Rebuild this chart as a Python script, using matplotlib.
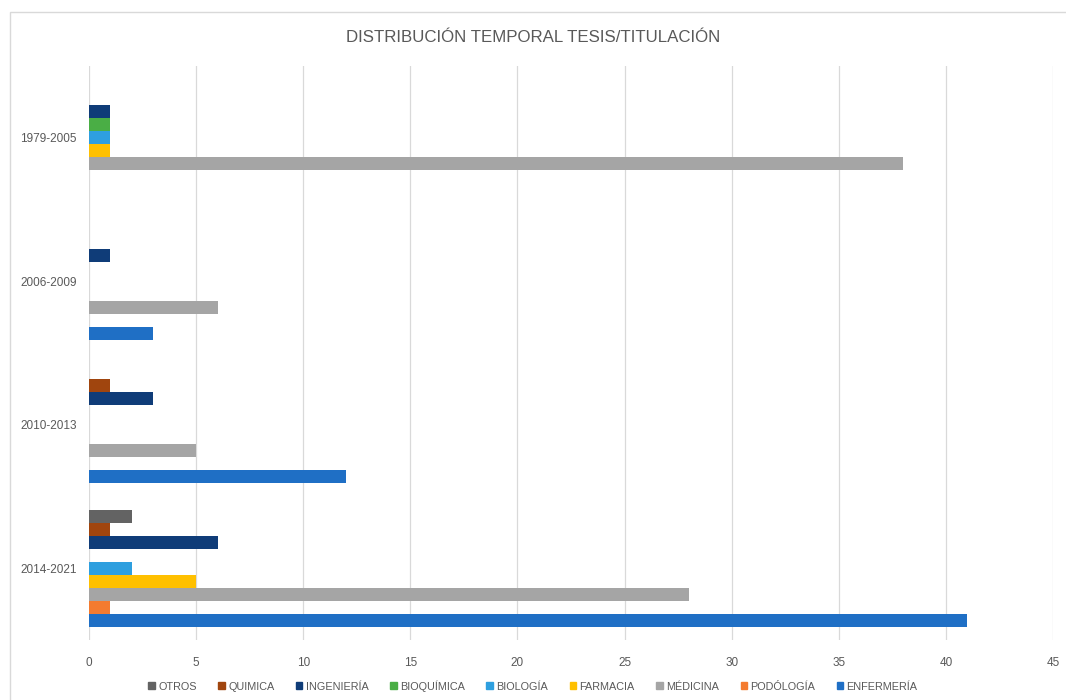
import numpy as np
import matplotlib.pyplot as plt
from matplotlib.patches import Rectangle, Patch

plt.rcParams['font.family'] = ['Liberation Sans', 'DejaVu Sans']

# categories, top to bottom in the picture
periods = ["1979-2005", "2006-2009", "2010-2013", "2014-2021"]

# series in drawing order (bottom bar of each group first)
series = ["ENFERMERÍA", "PODÓLOGÍA", "MÉDICINA", "FARMACIA", "BIOLOGÍA",
          "BIOQUÍMICA", "INGENIERÍA", "QUIMICA", "OTROS"]
colors = ["#1F6FC5", "#F47B2F", "#A5A5A5", "#FFC000", "#2E9FDF",
          "#4AAE45", "#0F3C78", "#A0450E", "#636363"]

enfermeria = [0, 3, 12, 41]
podologia = [0, 0, 0, 1]
medicina = [38, 6, 5, 28]
farmacia = [1, 0, 0, 5]
biologia = [1, 0, 0, 2]
bioquimica = [1, 0, 0, 0]
ingenieria = [1, 1, 3, 6]
quimica = [0, 0, 1, 1]
otros = [0, 0, 0, 2]
values = [enfermeria, podologia, medicina, farmacia, biologia,
          bioquimica, ingenieria, quimica, otros]

fig = plt.figure(figsize=(10.66, 7.0), dpi=100)
fig.patches.append(Rectangle((10 / 1066, -0.01), 1.05, 1 - 12 / 700 + 0.01,
                             transform=fig.transFigure, fill=False,
                             edgecolor="#D9D9D9", lw=1.0))
ax = fig.add_axes([89 / 1066, 60 / 700, (1053 - 89) / 1066, (634 - 60) / 700])

# group position: 1979-2005 on top
ypos = np.arange(len(periods))[::-1]
n = len(series)
bh = 0.0906
for i, (name, vals) in enumerate(zip(series, values)):
    off = (i - (n - 1) / 2) * bh
    ax.barh(ypos + off, vals, height=bh, color=colors[i], label=name, zorder=3)

ax.set_xlim(0, 45)
ax.set_ylim(-0.5, 3.5)
ax.set_xticks(np.arange(0, 46, 5))
ax.set_yticks(ypos)
ax.set_yticklabels(periods)
ax.tick_params(length=0, colors="#595959", labelsize=8.5)
ax.tick_params(axis="x", pad=12)
ax.tick_params(axis="y", pad=9)
ax.grid(axis="x", color="#D9D9D9", lw=0.9, zorder=0)
for s in ax.spines.values():
    s.set_visible(False)

fig.text(0.5, 1 - 38 / 700, "DISTRIBUCIÓN TEMPORAL TESIS/TITULACIÓN",
         ha="center", va="center", fontsize=12.2, color="#595959")

handles = [Patch(color=colors[i], label=series[i]) for i in range(n)][::-1]
fig.legend(handles=handles, loc="center", bbox_to_anchor=(0.5, 1 - 686 / 700),
           ncol=9, frameon=False, fontsize=7.8, handlelength=0.6, handleheight=0.6,
           handletextpad=0.3, columnspacing=2.0, labelcolor="#595959")

fig.savefig("out.png", dpi=100)
